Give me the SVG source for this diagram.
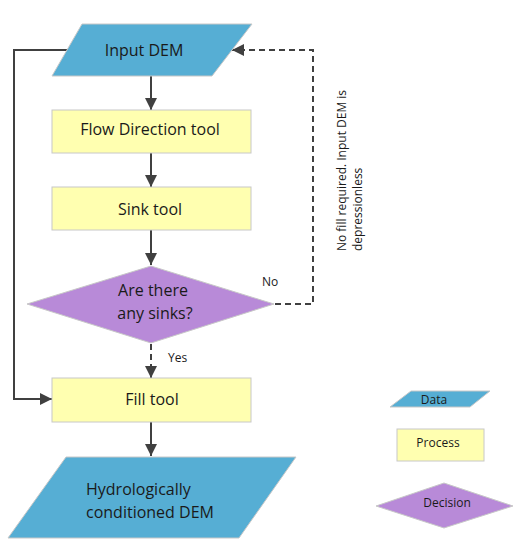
<svg xmlns="http://www.w3.org/2000/svg" width="518" height="556" viewBox="0 0 518 556">
<style>
.data{fill:#56aed4;stroke:#c8c8c8;stroke-width:1}
.proc{fill:#ffffb0;stroke:#c8c8c8;stroke-width:1}
.dec{fill:#b88ad8;stroke:#c8c8c8;stroke-width:1}
.t{font-family:"Open Sans","Noto Sans",sans-serif;font-size:16px;fill:#1a1a1a}
.s{font-family:"Open Sans","Noto Sans",sans-serif;font-size:12px;fill:#1a1a1a}
.c{fill:none;stroke:#404040;stroke-width:2}
.d{stroke-dasharray:6,4}
</style>
<defs>
<marker id="ah" viewBox="0 0 10 10" refX="10" refY="5" markerWidth="6" markerHeight="6" markerUnits="userSpaceOnUse" orient="auto">
<path d="M0,0 L10,5 L0,10 z" fill="#404040"/>
</marker>
<marker id="a" viewBox="0 0 12 12" refX="12" refY="6" markerWidth="12" markerHeight="12" markerUnits="userSpaceOnUse" orient="auto">
<path d="M0,0 L12,6 L0,12 z" fill="#404040"/>
</marker>
</defs>
<g id="connectors">
<path class="c" d="M151,76 V110" marker-end="url(#a)"/>
<path class="c" d="M151,153 V187" marker-end="url(#a)"/>
<path class="c" d="M151,230 V265" marker-end="url(#a)"/>
<path class="c d" d="M151,344 V378" marker-end="url(#a)"/>
<path class="c" d="M151,422 V456" marker-end="url(#a)"/>
<path class="c" d="M72,50 H14 V399 H52" marker-end="url(#a)"/>
<path class="c d" d="M275,304 H313 V50 H232" marker-end="url(#a)"/>
<text class="s" x="262" y="286">No</text>
<text class="s" x="168" y="362">Yes</text>
<text class="s" transform="translate(346,251) rotate(-90)">No fill required. Input DEM is</text>
<text class="s" transform="translate(362,251) rotate(-90)">depressionless</text>
</g>
<g id="input-dem">
<polygon class="data" points="82,24 252,24 212,76 52,76"/>
<text class="t" x="144" y="56" text-anchor="middle">Input DEM</text>
</g>
<g id="flow-direction">
<rect class="proc" x="52" y="110" width="199" height="43"/>
<text class="t" x="150" y="135" text-anchor="middle">Flow Direction tool</text>
</g>
<g id="sink-tool">
<rect class="proc" x="52" y="187" width="199" height="43"/>
<text class="t" x="150" y="215" text-anchor="middle">Sink tool</text>
</g>
<g id="decision">
<polygon class="dec" points="151,266 274,304 151,343 27,304"/>
<text class="t" x="153" y="296" text-anchor="middle">Are there</text>
<text class="t" x="155" y="319" text-anchor="middle">any sinks?</text>
</g>
<g id="fill-tool">
<rect class="proc" x="52" y="378" width="199" height="44"/>
<text class="t" x="152" y="405" text-anchor="middle">Fill tool</text>
</g>
<g id="hydro-dem">
<polygon class="data" points="66,457 296,457 239,538 8,538"/>
<text class="t" x="86" y="495">Hydrologically</text>
<text class="t" x="86" y="518">conditioned DEM</text>
</g>
<g id="legend-data">
<polygon class="data" points="411,391 490,391 470,407 390,407"/>
<text class="s" x="434" y="404" text-anchor="middle">Data</text>
</g>
<g id="legend-process">
<rect class="proc" x="397" y="429" width="87" height="32"/>
<text class="s" x="438" y="447" text-anchor="middle">Process</text>
</g>
<g id="legend-decision">
<polygon class="dec" points="444,483 513,506 444,528 376,506"/>
<text class="s" x="447" y="507" text-anchor="middle">Decision</text>
</g>
</svg>
